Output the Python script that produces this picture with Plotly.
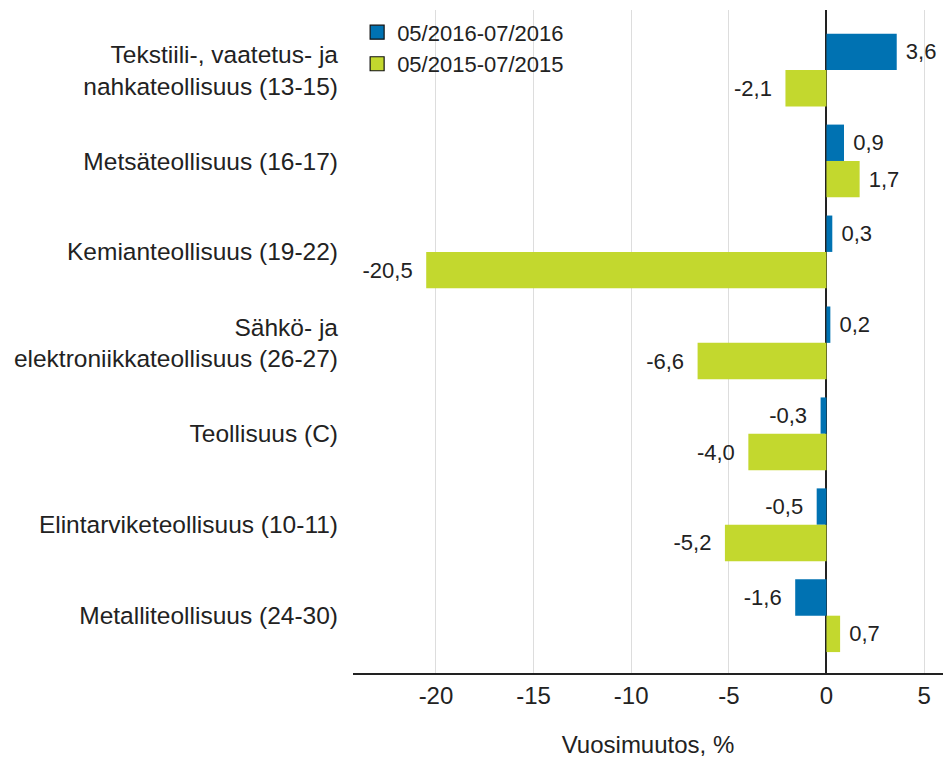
import plotly.graph_objects as go

categories = [
    "Tekstiili-, vaatetus- ja<br>nahkateollisuus (13-15)",
    "Metsäteollisuus (16-17)",
    "Kemianteollisuus (19-22)",
    "Sähkö- ja<br>elektroniikkateollisuus (26-27)",
    "Teollisuus (C)",
    "Elintarviketeollisuus (10-11)",
    "Metalliteollisuus (24-30)",
]
series_names = ["05/2016-07/2016", "05/2015-07/2015"]
values_2016 = [3.6, 0.9, 0.3, 0.2, -0.3, -0.5, -1.6]
values_2015 = [-2.1, 1.7, -20.5, -6.6, -4.0, -5.2, 0.7]
tick_vals = [-20, -15, -10, -5, 0, 5]

colors = ["#0072B2", "#C3D82E"]
FONT = "Liberation Sans, Arial, sans-serif"
TXT = "#222222"

def fmt(v):
    s = f"{v:.1f}".replace(".", ",")
    # small padding between bar end and label
    return "\u00a0" + s if v >= 0 else s + "\u00a0\u2009"

fig = go.Figure()
for name, vals, col in zip(series_names, [values_2016, values_2015], colors):
    fig.add_trace(go.Bar(
        y=categories, x=vals, name=name, orientation="h",
        marker=dict(color=col, line=dict(width=0)),
        text=[fmt(v) for v in vals], textposition="outside",
        textfont=dict(family=FONT, size=22, color=TXT),
        cliponaxis=False, showlegend=False, hoverinfo="skip",
    ))
# legend-only entries (black-outlined square swatches) on hidden overlay axes
for name, col in zip(series_names, colors):
    fig.add_trace(go.Scatter(
        x=[None], y=[None], name=name, mode="markers",
        marker=dict(symbol="square", size=14, color=col,
                    line=dict(color="#111111", width=1.2)),
        xaxis="x2", yaxis="y2", showlegend=True,
    ))

fig.update_layout(
    width=943, height=758,
    margin=dict(l=353, r=0, t=10, b=85),
    paper_bgcolor="white", plot_bgcolor="white",
    barmode="group", bargap=0.2, bargroupgap=0,
    font=dict(family=FONT, size=22, color=TXT),
    legend=dict(x=0.007, y=0.998, xanchor="left", yanchor="top",
                font=dict(family=FONT, size=22, color=TXT),
                bgcolor="rgba(0,0,0,0)", tracegroupgap=0, itemsizing="trace"),
    xaxis=dict(range=[-24.25, 5.97], tickvals=tick_vals, ticktext=[str(t) for t in tick_vals],
               showgrid=True, gridcolor="#dddddd", gridwidth=1,
               zeroline=True, zerolinecolor="#222222", zerolinewidth=1.5,
               showline=True, linecolor="#222222", linewidth=1.5,
               ticks="", automargin=False,
               tickfont=dict(family=FONT, size=24, color=TXT),
               title=dict(text="Vuosimuutos, %", font=dict(family=FONT, size=24, color=TXT), standoff=29)),
    yaxis=dict(type="category", range=[6.63, -0.66], showgrid=False, zeroline=False,
               showline=False, ticks="", ticklabelstandoff=14, automargin=False,
               tickfont=dict(family=FONT, size=24.5, color=TXT)),
    xaxis2=dict(overlaying="x", visible=False, range=[0, 1]),
    yaxis2=dict(overlaying="y", visible=False, range=[0, 1]),
)

fig.write_html("out.html", config={"displayModeBar": False},
               post_script="document.body.style.margin='0px';document.body.style.overflow='hidden';")
